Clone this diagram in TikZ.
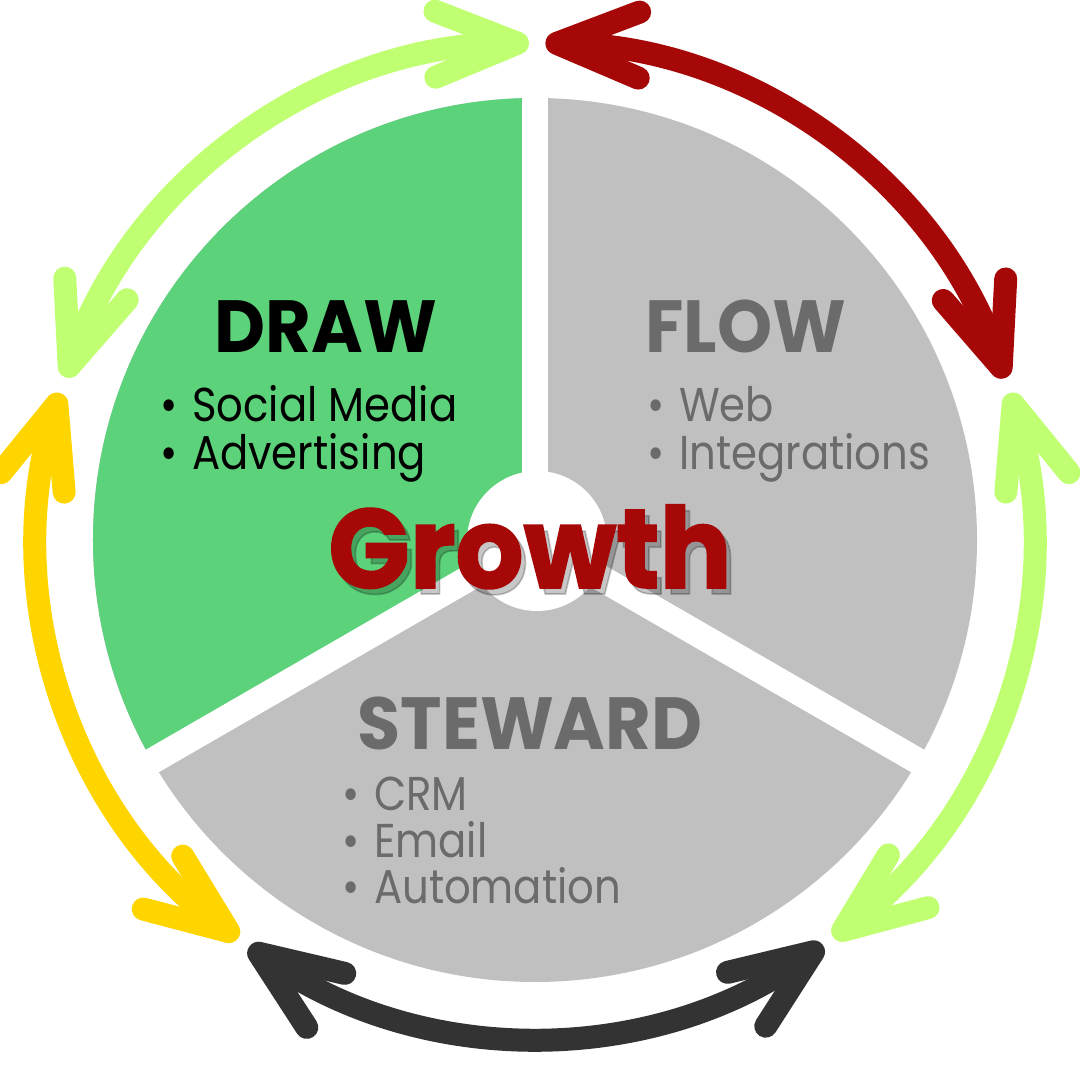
\documentclass[tikz,border=0pt]{standalone}
\usepackage{fontspec}
\setmainfont{Poppins}
\newfontfamily\headfont[FakeStretch=0.95]{Poppins}
\newfontfamily\itemfont[FakeStretch=0.88]{Poppins}
\newfontfamily\growfont[FakeStretch=0.95, BoldFeatures={FakeBold=1.5}]{Poppins}
\usetikzlibrary{arrows.meta}
\definecolor{drawgreen}{HTML}{5CD37A}
\definecolor{sectgray}{HTML}{C0C0C0}
\definecolor{textgray}{HTML}{6B6B6B}
\definecolor{limearc}{HTML}{C1FF72}
\definecolor{growred}{HTML}{A60808}
\definecolor{goldarc}{HTML}{FFD500}
\definecolor{darkarc}{HTML}{333333}

\begin{document}
\begin{tikzpicture}[x=0.01cm, y=0.01cm,
  cyc/.style={line width=0.23cm,
    {Straight Barb[round,length=0.82cm,width=0.66cm]}-{Straight Barb[round,length=0.82cm,width=0.66cm]}},
  gap/.style={white, line width=0.26cm},
  head/.style={font=\headfont\bfseries\fontsize{21}{24}\selectfont, inner sep=0pt, anchor=base},
  item/.style={font=\itemfont\fontsize{13.5}{16}\selectfont, inner sep=0pt, anchor=base west},
  growth/.style={font=\growfont\bfseries\fontsize{32}{36}\selectfont, inner sep=0pt, anchor=base}
]
\useasboundingbox (-535,-540) rectangle (545,540);
% wheel
\fill[sectgray] (0,0) circle[radius=442];
\fill[drawgreen] (0,0) -- (90:442) arc[start angle=90, end angle=210, radius=442] -- cycle;
\foreach \a in {90,210,330}
  \draw[gap] (0,0) -- (\a:460);
\fill[white] (2,-1) circle[radius=70];
% cycle arrows
\draw[cyc, limearc] (160.9:497) arc[start angle=160.9, end angle=90.7, radius=497];
\draw[cyc, growred] (88.8:497) arc[start angle=88.8, end angle=19, radius=497];
\draw[cyc, limearc] (17.2:497) arc[start angle=17.2, end angle=-53.1, radius=497];
\draw[cyc, darkarc] (-54.6:497) arc[start angle=-54.6, end angle=-125.1, radius=497];
\draw[cyc, goldarc] (-126.7:497) arc[start angle=-126.7, end angle=-197.2, radius=497];
% sector texts
\node[head, text=black] (draw) at (-209,187) {DRAW};
\node[item, text=black] (social) at (-375,118) {•\hspace{0.3em}Social Media};
\node[item, text=black] (advert) at (-375,70) {•\hspace{0.3em}Advertising};
\node[head, text=textgray] (flow) at (211,187) {FLOW};
\node[item, text=textgray] (web) at (112,118) {•\hspace{0.3em}Web};
\node[item, text=textgray] (integ) at (112,70) {•\hspace{0.3em}Integrations};
\node[head, text=textgray] (steward) at (-5,-210) {STEWARD};
\node[item, text=textgray] (crm) at (-193,-270) {•\hspace{0.3em}CRM};
\node[item, text=textgray] (email) at (-193,-317) {•\hspace{0.3em}Email};
\node[item, text=textgray] (autom) at (-193,-363) {•\hspace{0.3em}Automation};
% centre word, with its shadow
\node[growth] (grow) at (-5,-48)
  {\rlap{\kern1.4pt\raisebox{-1.7pt}{\pgfsetfillopacity{0.22}\pgfsetstrokeopacity{0.22}\color{black}Growth}}%
   \pgfsetfillopacity{1}\pgfsetstrokeopacity{1}\color{growred}Growth};
\end{tikzpicture}
\end{document}
